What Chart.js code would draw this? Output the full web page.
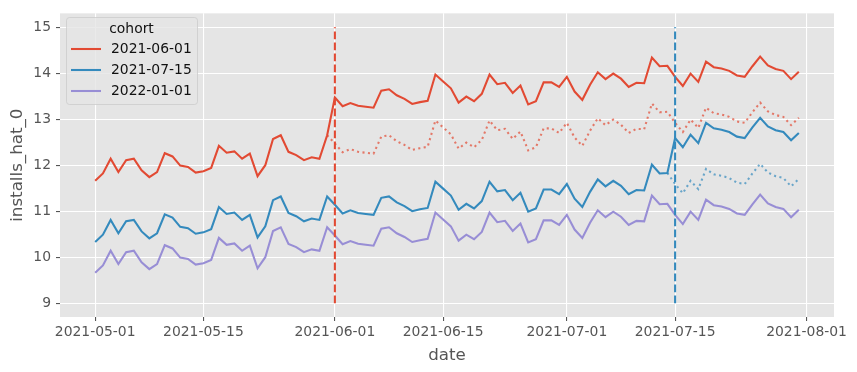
<!DOCTYPE html>
<html>
<head>
<meta charset="utf-8">
<script src="https://cdn.jsdelivr.net/npm/chart.js@4.4.1/dist/chart.umd.min.js"></script>
<style>
  html, body { margin: 0; padding: 0; background: #fff; }
</style>
</head>
<body>
<canvas id="chart" width="857" height="372"></canvas>
<script>
// x values are days since 2021-05-01
const tickDays = [0, 14, 31, 45, 61, 75, 92];
const tickLabels = ['2021-05-01', '2021-05-15', '2021-06-01', '2021-06-15', '2021-07-01', '2021-07-15', '2021-08-01'];
const yTicks = [9, 10, 11, 12, 13, 14, 15];

const cohorts = ['2021-06-01', '2021-07-15', '2022-01-01'];
const cohortDays = [31, 75];

const red = [11.66, 11.82, 12.14, 11.85, 12.11, 12.14, 11.89, 11.74, 11.85, 12.26,
  12.19, 11.99, 11.96, 11.84, 11.87, 11.94, 12.42, 12.27, 12.30, 12.14,
  12.25, 11.76, 12.00, 12.57, 12.65, 12.29, 12.22, 12.11, 12.17, 12.14,
  12.65, 13.47, 13.28, 13.35, 13.29, 13.27, 13.25, 13.62, 13.65, 13.52,
  13.44, 13.33, 13.37, 13.40, 13.97, 13.82, 13.67, 13.36, 13.49, 13.39,
  13.55, 13.97, 13.76, 13.79, 13.57, 13.73, 13.32, 13.39, 13.80, 13.80,
  13.70, 13.92, 13.60, 13.42, 13.75, 14.02, 13.87, 13.99, 13.88, 13.70,
  13.79, 13.78, 14.34, 14.15, 14.16, 13.92, 13.72, 13.99, 13.81, 14.25,
  14.13, 14.10, 14.05, 13.95, 13.92, 14.15, 14.36, 14.17, 14.09, 14.05,
  13.87, 14.03];

const blue = [10.33, 10.49, 10.81, 10.52, 10.78, 10.81, 10.56, 10.41, 10.52, 10.93,
  10.86, 10.66, 10.63, 10.51, 10.54, 10.61, 11.09, 10.94, 10.97, 10.81,
  10.92, 10.43, 10.67, 11.24, 11.32, 10.96, 10.89, 10.78, 10.84, 10.81,
  11.32, 11.14, 10.95, 11.02, 10.96, 10.94, 10.92, 11.29, 11.32, 11.19,
  11.11, 11.00, 11.04, 11.07, 11.64, 11.49, 11.34, 11.03, 11.16, 11.06,
  11.22, 11.64, 11.43, 11.46, 11.24, 11.40, 10.99, 11.06, 11.47, 11.47,
  11.37, 11.59, 11.27, 11.09, 11.42, 11.69, 11.54, 11.66, 11.55, 11.37,
  11.46, 11.45, 12.01, 11.82, 11.83, 12.59, 12.39, 12.66, 12.48, 12.92,
  12.80, 12.77, 12.72, 12.62, 12.59, 12.82, 13.03, 12.84, 12.76, 12.72,
  12.54, 12.70];

const purple = [9.66, 9.82, 10.14, 9.85, 10.11, 10.14, 9.89, 9.74, 9.85, 10.26,
  10.19, 9.99, 9.96, 9.84, 9.87, 9.94, 10.42, 10.27, 10.30, 10.14,
  10.25, 9.76, 10.00, 10.57, 10.65, 10.29, 10.22, 10.11, 10.17, 10.14,
  10.65, 10.47, 10.28, 10.35, 10.29, 10.27, 10.25, 10.62, 10.65, 10.52,
  10.44, 10.33, 10.37, 10.40, 10.97, 10.82, 10.67, 10.36, 10.49, 10.39,
  10.55, 10.97, 10.76, 10.79, 10.57, 10.73, 10.32, 10.39, 10.80, 10.80,
  10.70, 10.92, 10.60, 10.42, 10.75, 11.02, 10.87, 10.99, 10.88, 10.70,
  10.79, 10.78, 11.34, 11.15, 11.16, 10.92, 10.72, 10.99, 10.81, 11.25,
  11.13, 11.10, 11.05, 10.95, 10.92, 11.15, 11.36, 11.17, 11.09, 11.05,
  10.87, 11.03];

// dotted counterfactual lines, starting one day before each cohort date
const redBaseStart = 30;
const redBase = [12.65, 12.47, 12.28, 12.35, 12.29, 12.27, 12.25, 12.62, 12.65, 12.52,
  12.44, 12.33, 12.37, 12.40, 12.97, 12.82, 12.67, 12.36, 12.49, 12.39,
  12.55, 12.97, 12.76, 12.79, 12.57, 12.73, 12.32, 12.39, 12.80, 12.80,
  12.70, 12.92, 12.60, 12.42, 12.75, 13.02, 12.87, 12.99, 12.88, 12.70,
  12.79, 12.78, 13.34, 13.15, 13.16, 12.92, 12.72, 12.99, 12.81, 13.25,
  13.13, 13.10, 13.05, 12.95, 12.92, 13.15, 13.36, 13.17, 13.09, 13.05,
  12.87, 13.03];
const blueBaseStart = 74;
const blueBase = [11.83, 11.59, 11.39, 11.66, 11.48, 11.92, 11.80, 11.77, 11.72, 11.62,
  11.59, 11.82, 12.03, 11.84, 11.76, 11.72, 11.54, 11.70];

const vlineRange = [9, 15];

const C_RED = '#E24A33', C_BLUE = '#348ABD', C_PURPLE = '#988ED5';
const FONT = 'DejaVu Sans';
const LW = 2.08; // 1.5pt at 100 dpi

const pts = (arr, start) => arr.map((v, i) => ({ x: start + i, y: v }));

function solid(label, arr, color) {
  return { label: label, data: pts(arr, 0), borderColor: color, borderWidth: LW,
    pointRadius: 0, fill: false, tension: 0, order: 2 };
}
function dotted(arr, start, color) {
  return { label: '', data: pts(arr, start), borderColor: color, borderWidth: LW,
    borderDash: [2.1, 3.4], pointRadius: 0, fill: false, tension: 0, order: 3 };
}
function vline(day, color) {
  return { label: '', data: [{ x: day, y: vlineRange[0] }, { x: day, y: vlineRange[1] }],
    borderColor: color, borderWidth: LW, borderDash: [7.7, 3.3], pointRadius: 0, order: 1 };
}

const bgPlugin = {
  id: 'panelBg',
  beforeDraw(chart) {
    const { ctx, chartArea: a } = chart;
    ctx.save();
    ctx.fillStyle = '#E5E5E5';
    ctx.fillRect(a.left, a.top, a.right - a.left, a.bottom - a.top);
    ctx.restore();
  }
};

const legendPlugin = {
  id: 'cohortLegend',
  afterDraw(chart) {
    const ctx = chart.ctx;
    const x0 = 66, y0 = 17, w = 131, h = 87, r = 3;
    ctx.save();
    ctx.beginPath();
    ctx.roundRect(x0 + 0.5, y0 + 0.5, w, h, r);
    ctx.fillStyle = 'rgba(229,229,229,0.8)';
    ctx.fill();
    ctx.strokeStyle = 'rgba(204,204,204,0.8)';
    ctx.lineWidth = 1;
    ctx.stroke();
    ctx.font = '13.9px "' + FONT + '"';
    ctx.fillStyle = '#111';
    ctx.textBaseline = 'middle';
    ctx.textAlign = 'center';
    ctx.fillText('cohort', x0 + w / 2, y0 + 12);
    ctx.textAlign = 'left';
    const colors = [C_RED, C_BLUE, C_PURPLE];
    cohorts.forEach((c, i) => {
      const y = y0 + 32 + i * 21;
      ctx.beginPath();
      ctx.moveTo(x0 + 5, y);
      ctx.lineTo(x0 + 35, y);
      ctx.strokeStyle = colors[i];
      ctx.lineWidth = LW;
      ctx.stroke();
      ctx.fillText(c, x0 + 45, y);
    });
    ctx.restore();
  }
};

new Chart(document.getElementById('chart'), {
  type: 'line',
  data: {
    datasets: [
      solid(cohorts[0], red, C_RED),
      solid(cohorts[1], blue, C_BLUE),
      solid(cohorts[2], purple, C_PURPLE),
      dotted(redBase, redBaseStart, 'rgba(226,74,51,0.7)'),
      dotted(blueBase, blueBaseStart, 'rgba(52,138,189,0.7)'),
      vline(cohortDays[0], C_RED),
      vline(cohortDays[1], C_BLUE)
    ]
  },
  options: {
    responsive: false,
    animation: false,
    devicePixelRatio: 1,
    layout: { padding: { top: 11, right: 23, left: 0, bottom: 0 } },
    plugins: { legend: { display: false }, tooltip: { enabled: false } },
    scales: {
      x: {
        type: 'linear', min: -4.55, max: 95.55,
        afterBuildTicks: s => { s.ticks = tickDays.map(v => ({ value: v })); },
        afterFit: s => { s.height = 55; },
        ticks: { callback: (v, i) => tickLabels[i], color: '#555', padding: 3,
          maxRotation: 0, autoSkip: false, font: { family: FONT, size: 13.9 } },
        grid: { color: '#fff', lineWidth: 1.1, tickColor: '#555', tickLength: 4 },
        border: { display: false },
        title: { display: true, text: 'date', color: '#555', padding: { top: 2, bottom: 6 },
          font: { family: FONT, size: 16.7 } }
      },
      y: {
        min: 8.7, max: 15.3,
        afterBuildTicks: s => { s.ticks = yTicks.map(v => ({ value: v })); },
        afterFit: s => { s.width = 60; },
        ticks: { color: '#555', padding: 5, font: { family: FONT, size: 13.9 } },
        grid: { color: '#fff', lineWidth: 1.1, tickColor: '#555', tickLength: 4 },
        border: { display: false },
        title: { display: true, text: 'installs_hat_0', color: '#555', padding: { top: 8, bottom: 0 },
          font: { family: FONT, size: 16.7 } }
      }
    }
  },
  plugins: [bgPlugin, legendPlugin]
});
</script>
</body>
</html>
